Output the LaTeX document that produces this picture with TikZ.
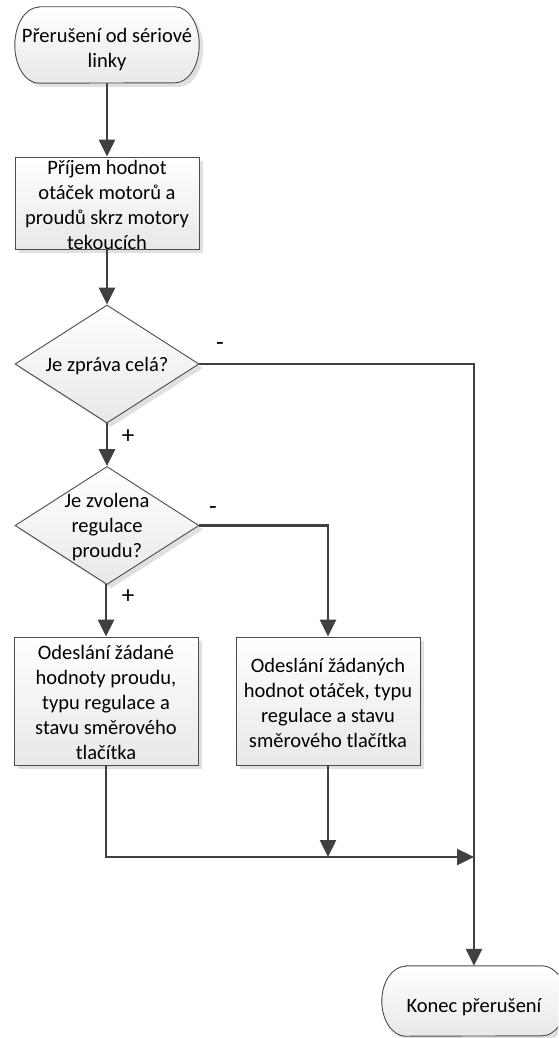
\documentclass[tikz,border=0pt]{standalone}
\usepackage{fontspec}
\setmainfont{Carlito}
\usetikzlibrary{arrows.meta,shapes.geometric,shadows,calc}

% rounded terminator outline drawn around a (borderless) rectangle node
\newcommand\termshape[2]{%
  \path[termstyle] ($(#1.north west)+(24,0)$) -- ($(#1.north east)+(-24,0)$)
    arc[start angle=90,end angle=-90,x radius=24pt,y radius=#2pt]
    -- ($(#1.south west)+(24,0)$)
    arc[start angle=270,end angle=90,x radius=24pt,y radius=#2pt] -- cycle;}

\begin{document}
\begin{tikzpicture}[x=1pt,y=1pt,
  every node/.style={font=\fontsize{20.5}{25}\selectfont, text=black},
  shadowed/.style={general shadow={shadow xshift=4pt,shadow yshift=-4pt,fill=black!12}},
  boxfill/.style={draw=black!70, line width=0.9pt, top color=white, bottom color=black!9},
  proc/.style={rectangle, boxfill, shadowed, minimum width=184pt, inner sep=0pt},
  dec/.style={diamond, boxfill, shadowed, minimum width=184pt, minimum height=118pt, inner sep=0pt},
  termbox/.style={rectangle, draw=none, minimum width=184pt, inner sep=0pt},
  termstyle/.style={boxfill, shadowed},
  txt/.style={align=center, inner sep=0pt},
  sign/.style={inner sep=0pt, font=\fontsize{25}{25}\selectfont},
  conn/.style={draw=black!75, line width=2.5pt, -{Triangle[length=17pt,width=16pt]}}
]
\path[use as bounding box, clip] (0,0) rectangle (558,-1038);

% start terminal
\node[termbox, minimum height=76pt] (start) at (107,-45) {};
\termshape{start}{38}
\node[txt] (startt) at (107,-50) {Přerušení od sériové\\linky};

% receive data
\node[proc, minimum height=92pt] (b1) at (107,-203) {};
\node[txt] (b1t) at (107,-205) {Příjem hodnot\\otáček motorů a\\proudů skrz motory\\tekoucích};

% decisions
\node[dec] (d1) at (107,-364) {};
\node[txt] (d1t) at (107,-366) {Je zpráva celá?};
\node[dec] (d2) at (107,-525.5) {};
\node[txt] (d2t) at (107,-527) {Je zvolena\\regulace\\proudu?};

% send boxes
\node[proc, minimum height=128pt] (b2) at (106,-701) {};
\node[txt] (b2t) at (106,-702) {Odeslání žádané\\hodnoty proudu,\\typu regulace a\\stavu směrového\\tlačítka};
\node[proc, minimum height=128pt] (b3) at (328,-701) {};
\node[txt] (b3t) at (328,-703) {Odeslání žádaných\\hodnot otáček, typu\\regulace a stavu\\směrového tlačítka};

% end terminal
\node[termbox, minimum height=70pt] (endT) at (474,-1001) {};
\termshape{endT}{35}
\node[txt] (endt) at (474,-1007) {Konec přerušení};

% merge point on the right-hand line
\coordinate (m) at (474,-857);

% connectors
\draw[conn] (start.south) -- (b1.north);
\draw[conn] (b1.south) -- (d1.north);
\draw[conn] (d1.east) -| (endT.north);
\draw[conn] (d1.south) -- (d2.north);
\draw[conn] (d2.east) -| (b3.north);
\draw[conn] (d2.south) -- (b2.north |- d2.south) -- (b2.north);
\draw[conn] (b2.south) |- (m);
\draw[conn] (b3.south) -- (b3.south |- m);

% branch labels
\node[sign] (s1) at (220,-347) {-};
\node[sign] (s2) at (128,-437) {+};
\node[sign] (s3) at (213,-511) {-};
\node[sign] (s4) at (128,-597) {+};
\end{tikzpicture}
\end{document}
